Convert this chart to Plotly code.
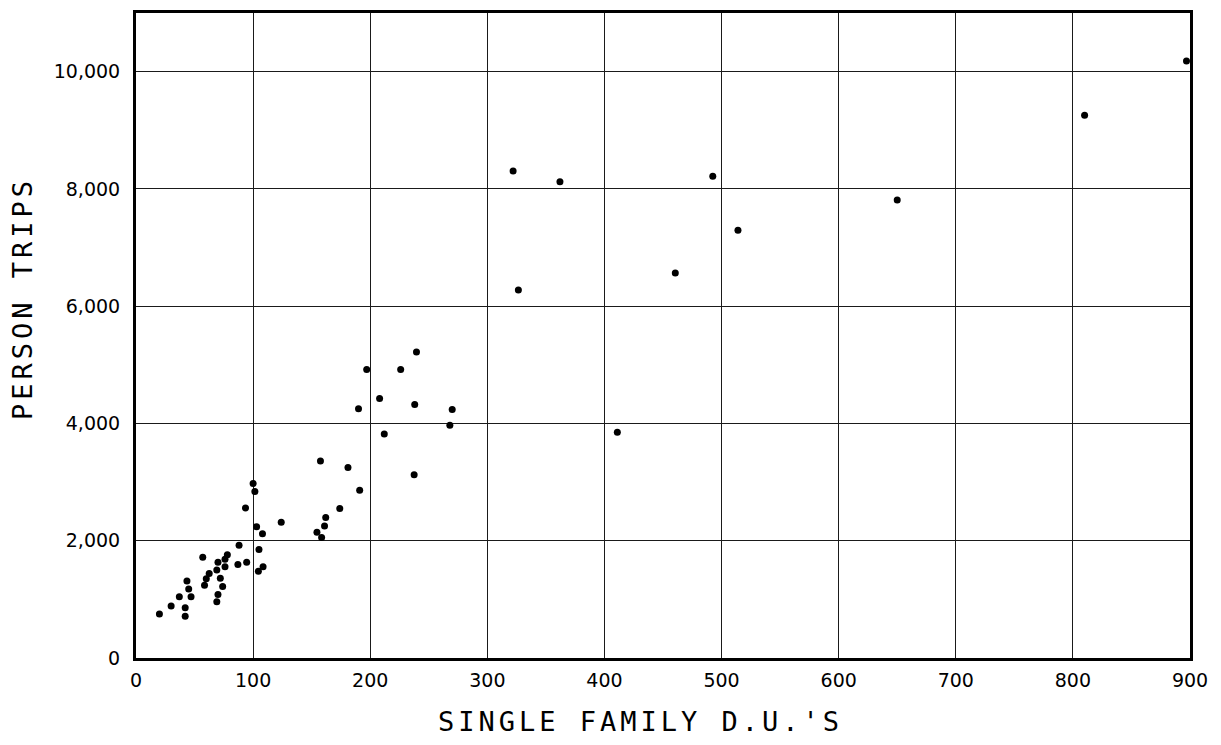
import plotly.graph_objects as go

# Single family dwelling units per zone vs. person trips generated
dwelling_units = [
    20, 30, 37, 42, 42, 43.5, 45, 47, 57, 58.5, 60, 62.5, 69, 69, 70, 70,
    72, 74, 76, 76, 78, 87, 88, 93.5, 94.5, 100, 101.5, 103, 104.5, 105,
    108, 108.5, 124, 154.5, 157.5, 158.5, 161, 162, 174, 181, 190, 191,
    197, 208, 212, 226, 237.5, 238, 239.5, 268, 270, 322, 326.5, 362,
    411, 460.5, 492.5, 514, 650, 810, 897,
]
person_trips = [
    750, 885, 1045, 855, 710, 1315, 1175, 1045, 1720, 1240, 1350, 1440,
    1500, 960, 1635, 1085, 1360, 1220, 1555, 1685, 1760, 1595, 1925, 2560,
    1635, 2975, 2840, 2240, 1480, 1850, 2120, 1555, 2315, 2145, 3360, 2055,
    2250, 2395, 2550, 3250, 4250, 2860, 4920, 4425, 3820, 4920, 3125, 4325,
    5220, 3970, 4240, 8305, 6275, 8120, 3850, 6565, 8215, 7295, 7810, 9255,
    10180,
]

x_ticks = [0, 100, 200, 300, 400, 500, 600, 700, 800, 900]
y_ticks = [0, 2000, 4000, 6000, 8000, 10000]
y_tick_text = ["0", "2,000", "4,000", "6,000", "8,000", "10,000"]

x_title = "SINGLE FAMILY D.U.'S"
y_title = "PERSON TRIPS"

tick_font = dict(family="DejaVu Sans", size=19, color="black")
title_font = dict(family="DejaVu Sans Mono", size=27, color="black")

fig = go.Figure()
fig.add_trace(go.Scatter(
    x=dwelling_units,
    y=person_trips,
    mode="markers",
    marker=dict(size=7, color="black", line=dict(width=0)),
    showlegend=False,
    cliponaxis=False,
))

fig.update_layout(
    width=1221,
    height=745,
    margin=dict(l=136, r=31, t=10, b=87),
    paper_bgcolor="white",
    plot_bgcolor="white",
    xaxis=dict(
        range=[0, 900],
        tickvals=x_ticks,
        showgrid=True,
        gridcolor="#1a1a1a",
        gridwidth=1.2,
        zeroline=False,
        showline=True,
        linecolor="black",
        linewidth=3,
        mirror=True,
        ticks="",
        ticklabelstandoff=3,
        tickfont=tick_font,
    ),
    yaxis=dict(
        range=[0, 11000],
        tickvals=y_ticks,
        ticktext=y_tick_text,
        showgrid=True,
        gridcolor="#1a1a1a",
        gridwidth=1.2,
        zeroline=False,
        showline=True,
        linecolor="black",
        linewidth=3,
        mirror=True,
        ticks="",
        ticklabelstandoff=9,
        tickfont=tick_font,
    ),
    annotations=[
        dict(
            text=x_title, xref="paper", yref="paper",
            x=0.479, y=-0.099, xanchor="center", yanchor="middle",
            showarrow=False, font=title_font,
        ),
        dict(
            text=y_title, xref="paper", yref="paper",
            x=-0.107, y=0.557, xanchor="center", yanchor="middle",
            textangle=-90, showarrow=False, font=title_font,
        ),
    ],
)

# Widen the lettering of the axis titles
spacing_js = (
    "document.querySelectorAll('.annotation-text').forEach(function(t){"
    "t.style.letterSpacing='4px';});"
)

fig.write_html("out.html", post_script=spacing_js)
